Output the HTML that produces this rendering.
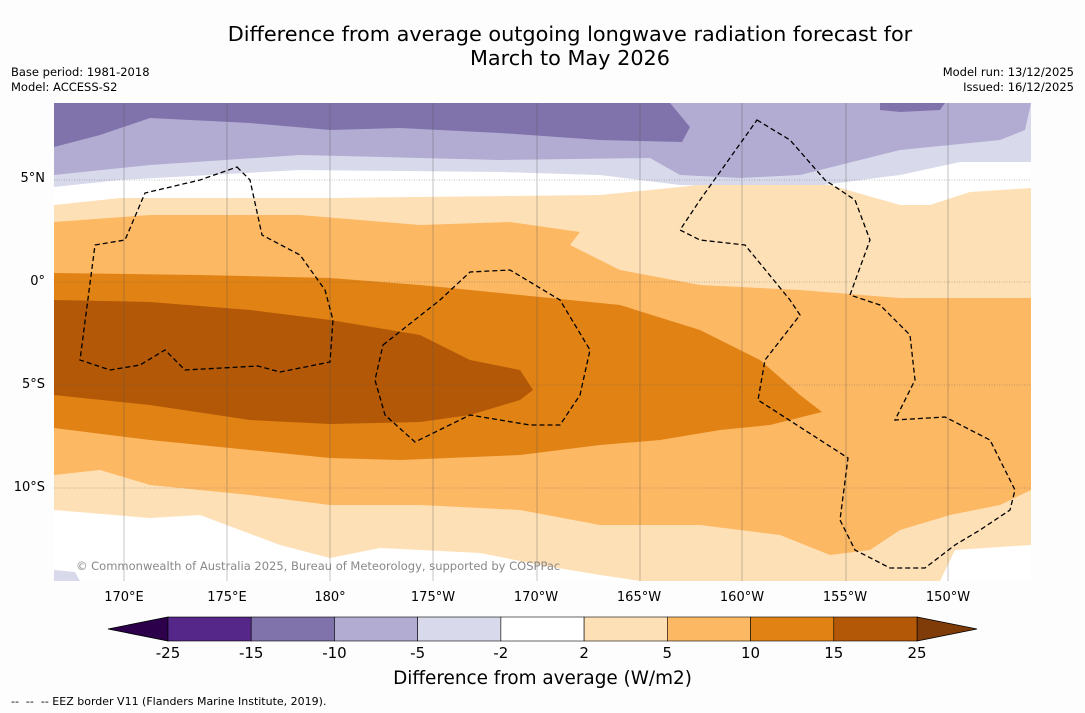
<!DOCTYPE html>
<html><head><meta charset="utf-8"><style>
body{margin:0;background:#fff;font-family:"DejaVu Sans","Liberation Sans",sans-serif;}
#wrap{position:relative;width:1085px;height:713px;overflow:hidden;background:#fdfdfd}
.t{position:absolute;white-space:nowrap;color:#000}
</style></head><body>
<div id="wrap">
<div class="t" style="left:0;width:1140px;text-align:center;top:22px;font-size:20.8px;line-height:24px">Difference from average outgoing longwave radiation forecast for<br>March to May 2026</div>
<div class="t" style="left:11px;top:65px;font-size:11.5px;line-height:15px">Base period: 1981-2018<br>Model: ACCESS-S2</div>
<div class="t" style="right:11px;top:65px;font-size:11.5px;line-height:15px;text-align:right">Model run: 13/12/2025<br>Issued: 16/12/2025</div>
<svg id="map" width="1085" height="713" style="position:absolute;left:0;top:0">
<defs><clipPath id="c"><rect x="54" y="103" width="977" height="478"/></clipPath></defs>
<g clip-path="url(#c)">
<rect x="54" y="103" width="977" height="478" fill="#fff"/>
<path fill="#d8daeb" d="M54,103H1031V162L960,162L900,175L800,188L680,185L600,175L500,172L300,170L120,180L54,187Z"/>
<path fill="#b2abd2" d="M54,103H1031V103L1025,130L1000,140L900,150L800,175L740,178L680,175L650,158L500,160L300,155L150,165L54,175Z"/>
<path fill="#8073ac" d="M54,103H670L690,127L682,142L600,140L500,133L400,128L330,130L250,123L150,118L100,135L54,147Z"/>
<path fill="#8073ac" d="M880,103H945L940,110L900,112L880,110Z"/>
<path fill="#d8daeb" d="M54,570L75,572L80,581H54Z"/>
<path fill="#fee0b6" d="M54,205L120,198L330,198L600,195L700,185L830,185L900,205L930,205L970,192L1031,188V545L955,550L940,581H640L600,575L540,565L480,553L380,548L330,558L280,545L200,515L150,518L54,510Z"/>
<path fill="#fdb863" d="M54,222L150,215L300,215L420,225L510,222L580,232L570,245L620,270L700,285L800,290L900,298L1031,298V490L1000,505L950,515L900,530L870,550L830,555L780,535L700,525L600,525L520,510L420,505L330,505L250,495L150,485L100,470L54,475Z"/>
<path fill="#e08214" d="M54,273L200,275L330,278L420,285L520,295L620,305L700,330L760,360L800,395L822,412L790,420L770,425L720,430L660,440L600,445L520,455L400,460L330,458L250,450L150,440L54,428Z"/>
<path fill="#b35806" d="M54,300L150,302L250,310L330,320L420,335L470,360L520,370L533,390L520,400L470,415L420,422L330,424L250,420L150,405L54,395Z"/>
<g stroke="#555" stroke-width="0.5" fill="none" opacity="0.7">
<path d="M124,103V581M227,103V581M330,103V581M433,103V581M537,103V581M640,103V581M742,103V581M846,103V581M948,103V581"/>
<path stroke-dasharray="1,1.5" d="M54,180H1031M54,282H1031M54,385H1031M54,488H1031"/>
</g>
<g stroke="#000" stroke-width="1.3" fill="none" stroke-dasharray="5,3">
<path d="M237,167L250,180L262,235L300,255L325,290L333,320L330,362L280,372L258,366L185,370L165,350L140,365L110,370L80,360L95,245L125,240L145,193L200,180Z"/>
<path d="M383,345L440,300L470,272L510,270L560,300L590,350L580,395L560,425L530,425L470,415L415,442L385,415L375,380Z"/>
<path d="M757,120L790,140L825,180L855,200L870,240L850,295L880,305L910,335L915,380L895,420L945,417L990,440L1015,490L1010,510L980,530L955,545L925,568L890,568L855,550L840,520L848,458L758,400L765,360L800,315L790,300L745,245L700,240L680,230L700,200Z"/>
</g>
</g>
</svg>
<div class="t" style="left:76px;top:559px;font-size:11.5px;color:#888">© Commonwealth of Australia 2025, Bureau of Meteorology, supported by COSPPac</div>
<div id="labels"></div>
<div class="t" style="left:0;width:1085px;text-align:center;top:668px;font-size:18.4px">Difference from average (W/m2)</div>
<div class="t" style="left:11px;top:695px;font-size:11px">-- &nbsp;-- &nbsp;-- EEZ border V11 (Flanders Marine Institute, 2019).</div>
</div>
<script>
const lonLabels=["170°E","175°E","180°","175°W","170°W","165°W","160°W","155°W","150°W"];
const lonValues=[170,175,180,185,190,195,200,205,210];
const latLabels=["5°N","0°","5°S","10°S"];
const latValues=[5,0,-5,-10];
const levels=[-25,-15,-10,-5,-2,2,5,10,15,25];
const colors=["#542788","#8073ac","#b2abd2","#d8daeb","#ffffff","#fee0b6","#fdb863","#e08214","#b35806"];
const extLow="#2d004b", extHigh="#7f3b08";
const xLon=v=>124+(v-170)*20.6;
const yLat=v=>282-v*20.55;
const lab=document.getElementById('labels');
lonValues.forEach((v,i)=>{const d=document.createElement('div');d.className='t';


d.style.cssText=`left:${xLon(v)-40}px;width:80px;text-align:center;top:590px;font-size:13px`;d.textContent=lonLabels[i];lab.appendChild(d);});
latValues.forEach((v,i)=>{const d=document.createElement('div');d.className='t';


d.style.cssText=`right:${1085-45}px;top:${yLat(v)-8}px;font-size:13px`;d.textContent=latLabels[i];lab.appendChild(d);});
const svg=document.getElementById('map');const ns='http://www.w3.org/2000/svg';
const x0=168,x1=917,y0=617,y1=641,n=colors.length,w=(x1-x0)/n;
const mk=(t,a)=>{const e=document.createElementNS(ns,t);for(const k in a)e.setAttribute(k,a[k]);svg.appendChild(e);return e;};
let e=mk('polygon',{points:`108,629 ${x0},${y0} ${x0},${y1}`,fill:extLow,stroke:'#000','stroke-width':0.8});


e=mk('polygon',{points:`977,629 ${x1},${y0} ${x1},${y1}`,fill:extHigh,stroke:'#000','stroke-width':0.8});


colors.forEach((c,i)=>{const r=mk('rect',{x:x0+i*w,y:y0,width:w,height:y1-y0,fill:c,stroke:'#000','stroke-width':0.6});

});
levels.forEach((v,i)=>{const t=mk('text',{x:x0+i*w,y:658,'text-anchor':'middle','font-size':15,'font-family':'DejaVu Sans, sans-serif'});t.textContent=v;

});
</script>
</body></html>
